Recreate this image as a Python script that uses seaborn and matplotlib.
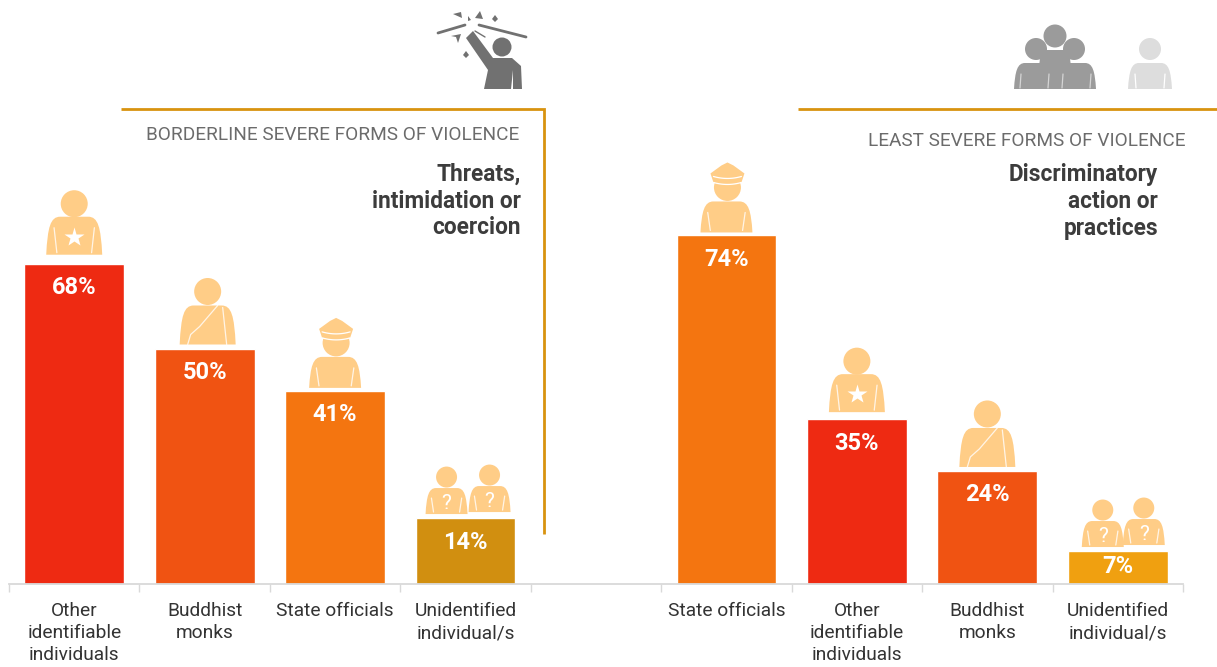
import numpy as np
import pandas as pd
import matplotlib
matplotlib.use('Agg')
import matplotlib.pyplot as plt
import seaborn as sns
from matplotlib.patches import Circle, PathPatch, Polygon
from matplotlib.path import Path

left_cats = ['Other\nidentifiable\nindividuals', 'Buddhist\nmonks', 'State officials', 'Unidentified\nindividual/s']
left_vals = [68, 50, 41, 14]
left_cols = ['#EE2A12', '#F05312', '#F47510', '#D18F10']
left_icons = ['star', 'monk', 'officer', 'unknown']

right_cats = ['State officials', 'Other\nidentifiable\nindividuals', 'Buddhist\nmonks', 'Unidentified\nindividual/s']
right_vals = [74, 35, 24, 7]
right_cols = ['#F47510', '#EE2A12', '#F05312', '#F0A010']
right_icons = ['officer', 'star', 'monk', 'unknown']

skin = '#FFCD87'
gold = '#D8930F'
dark = '#3C3C3C'

sns.set_theme(style='white')
plt.rcParams['font.family'] = ['Roboto', 'DejaVu Sans']

W, H = 1217, 667
cats = left_cats + [''] + right_cats
vals = left_vals + [np.nan] + right_vals
cols = left_cols + ['#FFFFFF'] + right_cols
icons = left_icons + [None] + right_icons
slots = list(range(len(cats)))
df = pd.DataFrame({'slot': slots, 'val': vals})

fig = plt.figure(figsize=(W / 100, H / 100), dpi=100)
ax = fig.add_axes([9 / W, (H - 584) / H, (1183 - 9) / W, 584 / H])
sns.barplot(data=df, x='slot', y='val', hue='slot', palette=cols, width=0.765, legend=False, saturation=1, ax=ax)
ax.set_xlim(-0.5, 8.5)
ax.set_ylim(0, 584 / 4.71)
ax.set_xlabel('')
ax.set_ylabel('')
ax.set_yticks([])
ax.patch.set_alpha(0)
sns.despine(ax=ax, left=True)
ax.spines['bottom'].set_color('#D9D9D9')
ax.spines['bottom'].set_linewidth(1.3)
ax.set_xticks(slots, cats, fontsize=13.8, color='#333333', linespacing=1.3)
ax.tick_params(axis='x', which='major', length=0, pad=13)
ax.set_xticks(np.arange(-0.5, 9), minor=True)
ax.tick_params(axis='x', which='minor', length=6, width=1, color='#D9D9D9', bottom=True)

# pixel overlay for icons and annotations
ov = fig.add_axes([0, 0, 1, 1], zorder=5)
ov.set_xlim(0, W)
ov.set_ylim(H, 0)
ov.axis('off')


def body(cx, base, hw, top, color):
    verts = [(cx - hw, base), (cx - hw * 0.95, top + 10 * hw / 27), (cx - hw * 0.85, top), (cx - hw * 0.5, top),
             (cx + hw * 0.5, top), (cx + hw * 0.85, top), (cx + hw * 0.95, top + 10 * hw / 27), (cx + hw, base),
             (cx - hw, base)]
    codes = [Path.MOVETO, Path.CURVE4, Path.CURVE4, Path.CURVE4, Path.LINETO,
             Path.CURVE4, Path.CURVE4, Path.CURVE4, Path.CLOSEPOLY]
    ov.add_patch(PathPatch(Path(verts, codes), fc=color, ec='none'))


def arms(cx, base, hw, h):
    for s in (-1, 1):
        ov.plot([cx + s * hw * 0.62, cx + s * hw * 0.72], [base - 2, base - h], color='white', lw=0.9, alpha=0.8)


def person(kind, cx, base, unknown_dx=(-19, 24)):
    if kind == 'star':
        body(cx, base, 28, base - 38, skin)
        ov.add_patch(Circle((cx, base - 51), 13.5, fc=skin, ec='none'))
        arms(cx, base, 28, 27)
        ov.plot([cx], [base - 18], marker='*', ms=15, color='white', mec='none')
    elif kind == 'monk':
        body(cx, base, 28, base - 39, skin)
        ov.add_patch(Circle((cx, base - 53), 13.5, fc=skin, ec='none'))
        ov.plot([cx + 10, cx - 8, cx - 17, cx - 20], [base - 39, base - 18, base - 10, base], color='white', lw=0.9, alpha=0.8)
        ov.plot([cx + 15, cx + 19], [base - 37, base], color='white', lw=0.9, alpha=0.8)
    elif kind == 'officer':
        body(cx, base, 26, base - 31, skin)
        ov.add_patch(Circle((cx + 1, base - 45), 13.5, fc=skin, ec='none'))
        cap = [(cx - 16, base - 59), (cx - 5, base - 67), (cx + 1, base - 70), (cx + 7, base - 67), (cx + 18, base - 59),
               (cx + 15, base - 50), (cx - 13, base - 50)]
        ov.add_patch(Polygon(cap, fc=skin, ec='none'))
        t = np.linspace(-1, 1, 20)
        ov.plot(cx + 1 + 14 * t, base - 56 + 2 * (1 - t ** 2), color='white', lw=0.9)
        ov.plot(cx + 1 + 14 * t, base - 50 + 2 * (1 - t ** 2), color='white', lw=0.9)
        arms(cx, base, 26, 20)
    elif kind == 'unknown':
        for dx, dy in zip(unknown_dx, (0, 2)):
            x0, b = cx + dx, base - dy
            body(x0, b, 21, b - 26, skin)
            ov.add_patch(Circle((x0, b - 37), 10.5, fc=skin, ec='none'))
            arms(x0, b, 21, 16)
            ov.text(x0, b - 11, '?', color='white', fontsize=15, ha='center', va='center')


base_gap = {'star': 7, 'monk': 4, 'officer': 3, 'unknown': 4}
for i, v in enumerate(vals):
    if np.isnan(v):
        continue
    cx, y_top = ov.transData.inverted().transform(ax.transData.transform((i, v)))
    icon_x = cx + 3 if i == 1 else cx
    udx = (-19, 24) if i < 4 else (-15, 26)
    gap = 9 if i == 0 else base_gap[icons[i]]
    person(icons[i], icon_x, y_top - gap, udx)
    offs = 24 if v >= 10 else 15
    ov.text(cx, y_top + offs, f'{v:d}%', color='white', fontsize=17, fontweight='bold', ha='center', va='center')

# bracket lines
ov.plot([121, 544, 544], [109, 109, 534], color=gold, lw=2, solid_joinstyle='miter', solid_capstyle='butt')
ov.plot([798, 1217], [109, 109], color=gold, lw=2, solid_capstyle='butt')

# panel headings
ov.text(519, 135, 'BORDERLINE SEVERE FORMS OF VIOLENCE', color='#6B6B6B', fontsize=13.7, ha='right', va='center')
ov.text(1185, 141, 'LEAST SEVERE FORMS OF VIOLENCE', color='#6B6B6B', fontsize=13.7, ha='right', va='center')
for y, s in zip((174, 201, 228), ('Threats,', 'intimidation or', 'coercion')):
    ov.text(521, y, s, color=dark, fontsize=16.3, fontweight='bold', ha='right', va='center')
for y, s in zip((174, 201, 228), ('Discriminatory', 'action or', 'practices')):
    ov.text(1158, y, s, color=dark, fontsize=16.3, fontweight='bold', ha='right', va='center')

# top icon: person striking
grey = '#717171'
ov.add_patch(Circle((502, 47), 9.5, fc=grey, ec='none'))
ov.add_patch(Polygon([(466, 38), (473, 31), (493, 58), (512, 58), (521, 66), (522, 89), (513, 89), (513, 70), (511, 89),
                      (484, 89), (488, 70)], fc=grey, ec='none'))
ov.plot([438, 465], [33, 25], color=grey, lw=2)
ov.plot([479, 526], [25, 37], color=grey, lw=2)
ov.plot([475, 485], [31, 37], color=grey, lw=1)
for pts in ([(453, 14), (461, 12), (462, 18)], [(468, 16), (471, 20), (468, 21)], [(475, 18), (480, 11), (483, 19)],
            [(495, 15), (498, 19), (495, 22), (492, 19)], [(451, 36), (461, 34), (458, 43), (456, 37)],
            [(466, 51), (469, 55), (466, 58), (463, 55)]):
    ov.add_patch(Polygon(pts, fc=grey, ec='none'))

# top icon: group and single person
for x0, top, hw in ((1036, 63, 22), (1074, 63, 22), (1055, 50, 17)):
    body(x0, 89, hw, top, '#9B9B9B')
for x0, y0, r in ((1036, 49, 11), (1074, 49, 11), (1055, 36, 11.5)):
    ov.add_patch(Circle((x0, y0), r, fc='#9B9B9B', ec='none'))
for x0 in (1020, 1048, 1062, 1090):
    ov.plot([x0, x0 + 1], [88, 74], color='#D5D5D5', lw=0.9)
body(1150, 89, 22, 63, '#DDDDDD')
ov.add_patch(Circle((1150, 49), 11, fc='#DDDDDD', ec='none'))
for x0 in (1136, 1164):
    ov.plot([x0, x0 + (1 if x0 > 1150 else -1)], [88, 74], color='white', lw=0.9)

fig.savefig('out.png', dpi=100, facecolor='white')
